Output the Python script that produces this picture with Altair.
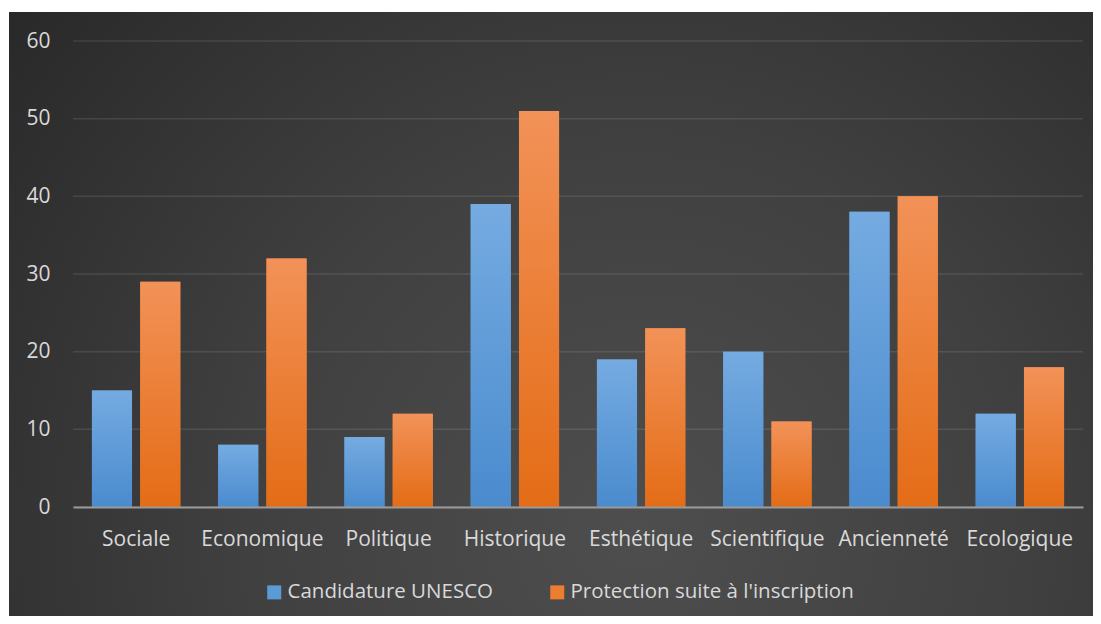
import altair as alt
import pandas as pd

categories = ["Sociale", "Economique", "Politique", "Historique",
              "Esthétique", "Scientifique", "Ancienneté", "Ecologique"]
series_names = ["Candidature UNESCO", "Protection suite à l'inscription"]
candidature = [15, 8, 9, 39, 19, 20, 38, 12]
protection = [29, 32, 12, 51, 23, 11, 40, 18]
y_ticks = [0, 10, 20, 30, 40, 50, 60]
colors = ["#5B9BD5", "#ED7D31"]
grad_blue = ["#75ABE1", "#4A8BCE"]
grad_orange = ["#F29258", "#E46C16"]

rows = []
for c, a, b in zip(categories, candidature, protection):
    rows.append({"cat": c, "serie": series_names[0], "val": a})
    rows.append({"cat": c, "serie": series_names[1], "val": b})
df = pd.DataFrame(rows)
grid_df = pd.DataFrame({"v": y_ticks})

W, H = 1010, 466
FONT = "Open Sans"
TXT = "#D9D9D9"

x_enc = alt.X("cat:N", sort=categories, title=None,
              scale=alt.Scale(paddingInner=0.3, paddingOuter=0.15),
              axis=alt.Axis(labelAngle=0, labelFontSize=21, labelColor=TXT,
                            labelFont=FONT, ticks=False, labelPadding=21,
                            domainColor="#9A9A9A", domainWidth=2, grid=False,
                            zindex=1))
y_enc = alt.Y("val:Q", title=None,
              scale=alt.Scale(domain=[0, 60], nice=False),
              axis=alt.Axis(values=y_ticks, labelFontSize=21, labelColor=TXT,
                            labelFont=FONT, ticks=False, domain=False,
                            grid=False, labelPadding=23, zindex=1))
xoff = alt.XOffset("serie:N", sort=series_names,
                   scale=alt.Scale(domain=series_names, paddingInner=0.17,
                                   paddingOuter=0))


def vgrad(top, bottom):
    return alt.Gradient(gradient="linear", x1=0, x2=0, y1=0, y2=1,
                        stops=[alt.GradientStop(color=top, offset=0),
                               alt.GradientStop(color=bottom, offset=1)])


bg = alt.Chart(pd.DataFrame({"k": [0]})).mark_rect(
    fill=alt.Gradient(gradient="radial", x1=0.58, y1=0.7, r1=0,
                      x2=0.58, y2=0.7, r2=0.8,
                      stops=[alt.GradientStop(color="#4E4E4E", offset=0),
                             alt.GradientStop(color="#404040", offset=0.45),
                             alt.GradientStop(color="#262626", offset=1)])
).encode(x=alt.value(-64), x2=alt.value(W + 10),
         y=alt.value(-29), y2=alt.value(H + 109))

grid = alt.Chart(grid_df).mark_rule(color="#FFFFFF", opacity=0.1,
                                     strokeWidth=1.5).encode(
    y=alt.Y("v:Q", scale=alt.Scale(domain=[0, 60], nice=False))
)

bars = alt.Chart(df).mark_bar().encode(
    x=x_enc, y=y_enc, xOffset=xoff,
    color=alt.Color("serie:N", sort=series_names,
                    scale=alt.Scale(domain=series_names, range=colors),
                    legend=alt.Legend(title=None, orient="none",
                                      direction="horizontal",
                                      legendX=191, legendY=541,
                                      symbolType="square", symbolSize=196,
                                      symbolStrokeWidth=0,
                                      labelFontSize=20.5, labelFont=FONT,
                                      labelColor=TXT, labelOffset=3,
                                      labelLimit=600,
                                      columnPadding=54, padding=0))
)

blue = alt.Chart(df).transform_filter(
    alt.datum.serie == series_names[0]
).mark_bar(fill=vgrad(*grad_blue)).encode(x=x_enc, y=y_enc, xOffset=xoff)

orange = alt.Chart(df).transform_filter(
    alt.datum.serie == series_names[1]
).mark_bar(fill=vgrad(*grad_orange)).encode(x=x_enc, y=y_enc, xOffset=xoff)

chart = alt.layer(bg, grid, bars, blue, orange).properties(
    width=W, height=H,
    padding={"left": 1, "top": 4, "right": 0, "bottom": 0},
    background="#FFFFFF"
).configure_view(stroke=None)

chart.save("out.html", embed_options={"renderer": "svg", "actions": False})
